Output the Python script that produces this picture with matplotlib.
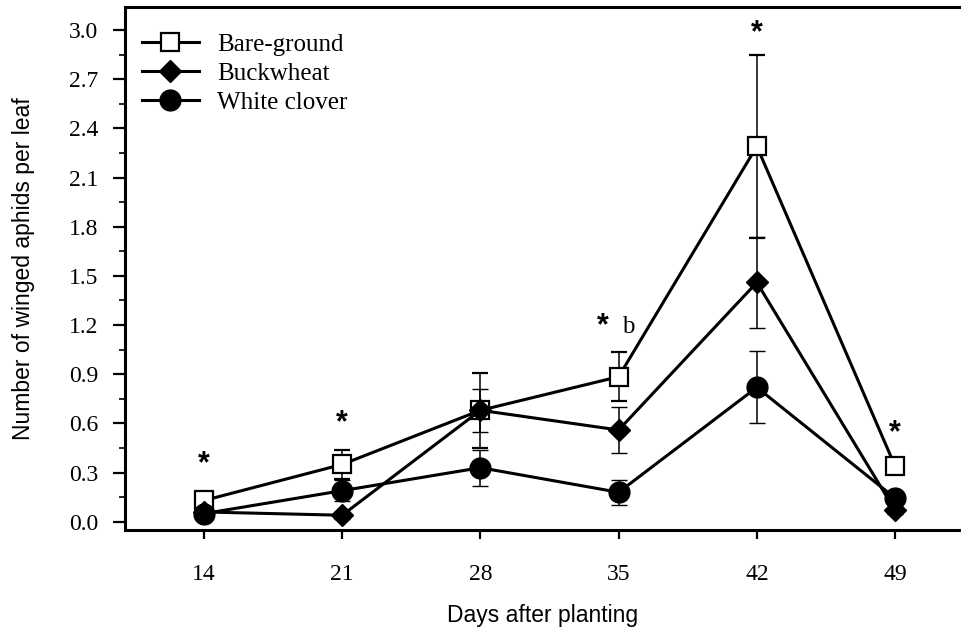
import matplotlib.pyplot as plt
from matplotlib.lines import Line2D
from matplotlib.ticker import MultipleLocator

# days after planting
days = [14, 21, 28, 35, 42, 49]

# mean winged aphids per leaf and standard errors
bare = [0.13, 0.35, 0.68, 0.885, 2.29, 0.34]
bare_se = [0.02, 0.09, 0.23, 0.15, 0.56, 0.02]
buck = [0.06, 0.04, 0.68, 0.56, 1.46, 0.07]
buck_se = [0.02, 0.02, 0.13, 0.14, 0.28, 0.02]
clover = [0.05, 0.19, 0.33, 0.18, 0.82, 0.145]
clover_se = [0.02, 0.065, 0.11, 0.075, 0.22, 0.03]

# significance marks
sig_x = [14, 21, 34.2, 42, 49]
sig_y = [0.35, 0.60, 1.19, 2.98, 0.54]
letter_x, letter_y, letter = 35.5, 1.19, 'b'

serif = ['Liberation Serif', 'DejaVu Serif']
sans = ['Liberation Sans', 'DejaVu Sans']

fig = plt.figure(figsize=(9.61, 6.27), dpi=100)
ax = fig.add_axes([125 / 961, 97 / 627, 836 / 961, 523 / 627])

common = dict(color='black', lw=2.2, elinewidth=1.1, capsize=6, capthick=1.1)
styles = [
    ('Bare-ground', bare, bare_se, dict(marker='s', ms=12.5, mfc='white', mew=1.6), 3),
    ('Buckwheat', buck, buck_se, dict(marker='D', ms=11, mfc='black', mew=1.0), 4),
    ('White clover', clover, clover_se, dict(marker='o', ms=15, mfc='black', mew=1.0), 5),
]
handles = []
for name, vals, se, mk, z in styles:
    ax.errorbar(days, vals, yerr=se, mec='black', zorder=z, **mk, **common)
    handles.append(Line2D([], [], color='black', lw=2.2, mec='black', label=name, **mk))

for x, y in zip(sig_x, sig_y):
    ax.text(x, y, '*', ha='center', va='center', fontsize=22, fontweight='bold', family=sans)
ax.text(letter_x, letter_y, letter, ha='center', va='center', fontsize=18, family=serif)

ax.set_xlim(10, 52.34)
ax.set_ylim(-0.05, 3.14)
ax.set_xticks(days)
ax.yaxis.set_major_locator(MultipleLocator(0.3))
ax.yaxis.set_minor_locator(MultipleLocator(0.15))
ax.set_yticklabels([f'{v:.1f}' for v in ax.get_yticks()])

for lab in ax.get_xticklabels() + ax.get_yticklabels():
    lab.set_family(serif)
    lab.set_fontsize(17)

ax.tick_params(axis='y', which='major', direction='out', length=8.5, width=1.6, pad=11)
ax.tick_params(axis='y', which='minor', direction='out', length=4, width=1.2)
ax.tick_params(axis='x', which='major', direction='out', length=6.5, width=1.6, pad=18)
ax.tick_params(top=False, right=False)

ax.spines['right'].set_visible(False)
for s in ['left', 'bottom', 'top']:
    ax.spines[s].set_linewidth(2.2)

ax.set_xlabel('Days after planting', family=sans, fontsize=16.5, labelpad=14)
ax.set_ylabel('Number of winged aphids per leaf', family=sans, fontsize=16.5, labelpad=24)

ax.legend(handles=handles, loc='upper left', bbox_to_anchor=(0.02, 0.95), frameon=False,
          borderaxespad=0, borderpad=0, handlelength=2.3, handletextpad=0.7,
          labelspacing=0.26, prop={'family': serif, 'size': 18})

fig.savefig('out.png', dpi=100)
